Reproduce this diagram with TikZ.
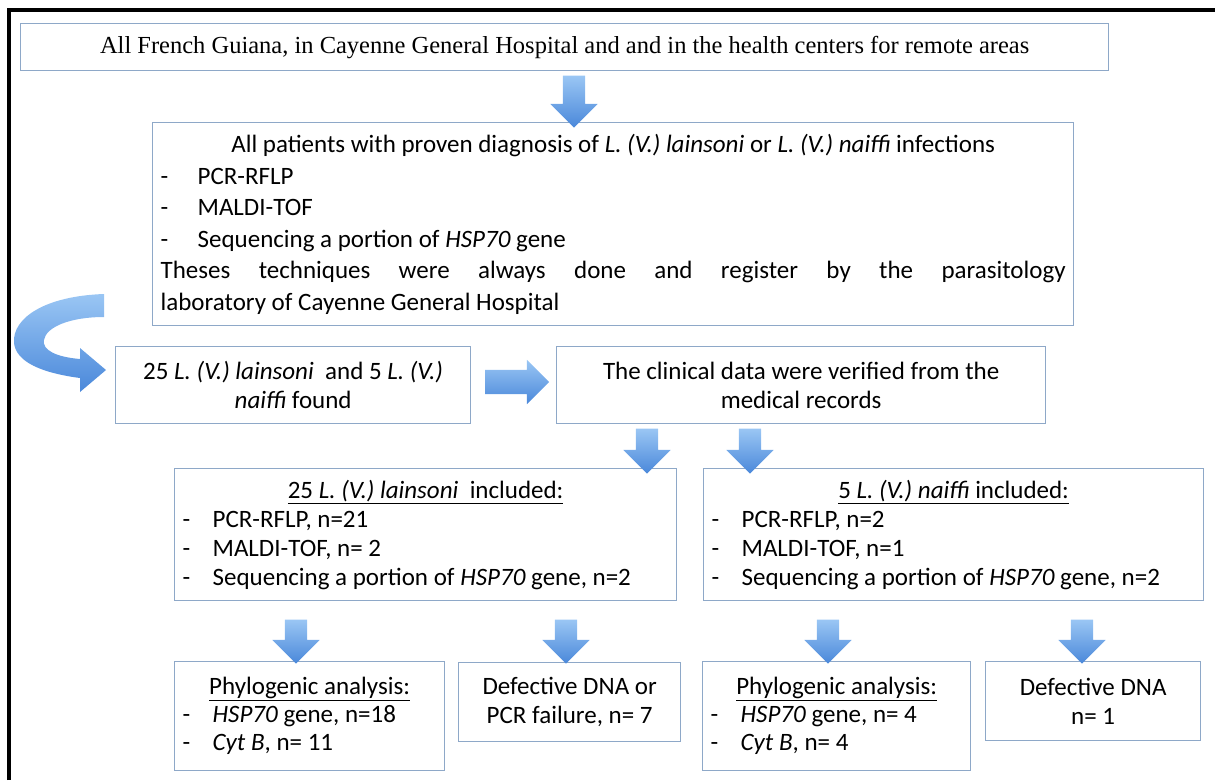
\documentclass[tikz,border=0pt]{standalone}
\usepackage{fontspec}
\setmainfont{Carlito}
\newfontfamily\serifbox{Liberation Serif}
\usetikzlibrary{shapes.arrows,positioning}
\setlength{\parindent}{0pt}

\definecolor{boxline}{HTML}{8EA8C8}
\definecolor{arrtop}{HTML}{9AC6F4}
\definecolor{arrbot}{HTML}{4A88DA}

\newcommand{\ditem}[1]{\makebox[30pt][l]{-}#1\par}
\newcommand{\dlitem}[1]{\makebox[37pt][l]{-}#1\par}

\tikzstyle{block} = [rectangle, draw=boxline, line width=1.3pt, anchor=north west,
    inner sep=8pt, font=\fontsize{25}{29}\selectfont]
\tikzstyle{downarr} = [single arrow, shape border rotate=270, draw=none,
    top color=arrtop, bottom color=arrbot, minimum height=45pt, inner sep=11pt,
    single arrow head extend=12.5pt]
\tikzstyle{rightarr} = [single arrow, draw=none, top color=arrtop, bottom color=arrbot,
    minimum height=64pt, inner sep=12pt, single arrow head extend=10pt]

\begin{document}
\begin{tikzpicture}[x=1pt,y=-1pt]
  \useasboundingbox (0,0) rectangle (1215,780);
  \draw[line width=3.5pt] (9,780) |- (1215,10);

  \node[block, text width=1072pt, minimum height=47pt, align=flush center,
        font=\serifbox\fontsize{24.5}{28}\selectfont] (b1) at (20,23)
    {All French Guiana, in Cayenne General Hospital and and in the health centers for remote areas};
  \node[block, text width=905pt, minimum height=203pt, align=justify,
        font=\fontsize{25}{31.5}\selectfont] (b2) at (152,122) {
    {\centering All patients with proven diagnosis of \textit{L. (V.) lainsoni} or \textit{L. (V.) naiffi} infections\par}
    \dlitem{PCR-RFLP}
    \dlitem{MALDI-TOF}
    \dlitem{Sequencing a portion of \textit{HSP70} gene}
    Theses techniques were always done and register by the parasitology\linebreak
    laboratory of Cayenne General Hospital};
  \node[block, text width=339pt, minimum height=77pt, align=flush center] (b3) at (115,346)
    {25 \textit{L. (V.) lainsoni}\ \ and 5 \textit{L. (V.)}\\\textit{naiffi} found};
  \node[block, text width=473pt, minimum height=77pt, align=flush center] (b4) at (556,346)
    {The clinical data were verified from the\\medical records};

  \node[block, text width=486pt, minimum height=132pt, align=flush left] (b5) at (174,468) {
    {\centering\underline{25 \textit{L. (V.) lainsoni}\ \ included:}\par}
    \ditem{PCR-RFLP, n=21}
    \ditem{MALDI-TOF, n= 2}
    \ditem{Sequencing a portion of \textit{HSP70} gene, n=2}};
  \node[block, text width=484pt, minimum height=132pt, align=flush left] (b6) at (703,468) {
    {\centering\underline{5 \textit{L. (V.) naiffi} included:}\par}
    \ditem{PCR-RFLP, n=2}
    \ditem{MALDI-TOF, n=1}
    \ditem{Sequencing a portion of \textit{HSP70} gene, n=2}};

  \node[block, text width=254pt, minimum height=109pt, align=flush left,
        font=\fontsize{25}{28}\selectfont] (b7) at (174,661) {
    {\centering\underline{Phylogenic analysis:}\par}
    \ditem{\textit{HSP70} gene, n=18}
    \ditem{\textit{Cyt B}, n= 11}};
  \node[block, text width=206pt, minimum height=79pt, align=flush center] (b8) at (458,662)
    {Defective DNA or\\PCR failure, n= 7};
  \node[block, text width=252pt, minimum height=109pt, align=flush left,
        font=\fontsize{25}{28}\selectfont] (b9) at (702,661) {
    {\centering\underline{Phylogenic analysis:}\par}
    \ditem{\textit{HSP70} gene, n= 4}
    \ditem{\textit{Cyt B}, n= 4}};
  \node[block, text width=199pt, minimum height=79pt, align=flush center] (b10) at (985,661)
    {Defective DNA\\n= 1};

  % block arrows
  \node[downarr, minimum height=52pt] (a1) at (574,96) {};
  \node[rightarr] (a2) at (511,382) {};
  \node[downarr] (a3) at (647,445.5) {};
  \node[downarr] (a4) at (750,445.5) {};
  \node[downarr, minimum height=44pt] (a5) at (296,636) {};
  \node[downarr, minimum height=44pt] (a6) at (566,636) {};
  \node[downarr, minimum height=44pt] (a7) at (828,636) {};
  \node[downarr, minimum height=44pt] (a8) at (1082,636) {};

  % curved arrow into b3
  \shade[top color=arrtop, bottom color=arrbot]
    (104,294) .. controls (45,296) and (12,318) .. (14,343)
    .. controls (16,362) and (42,373) .. (80,378)
    -- (80,392) -- (106,370) -- (80,348) -- (80,359)
    .. controls (56,357) and (42,350) .. (44,340)
    .. controls (46,327) and (70,317) .. (104,317) -- cycle;
\end{tikzpicture}
\end{document}
